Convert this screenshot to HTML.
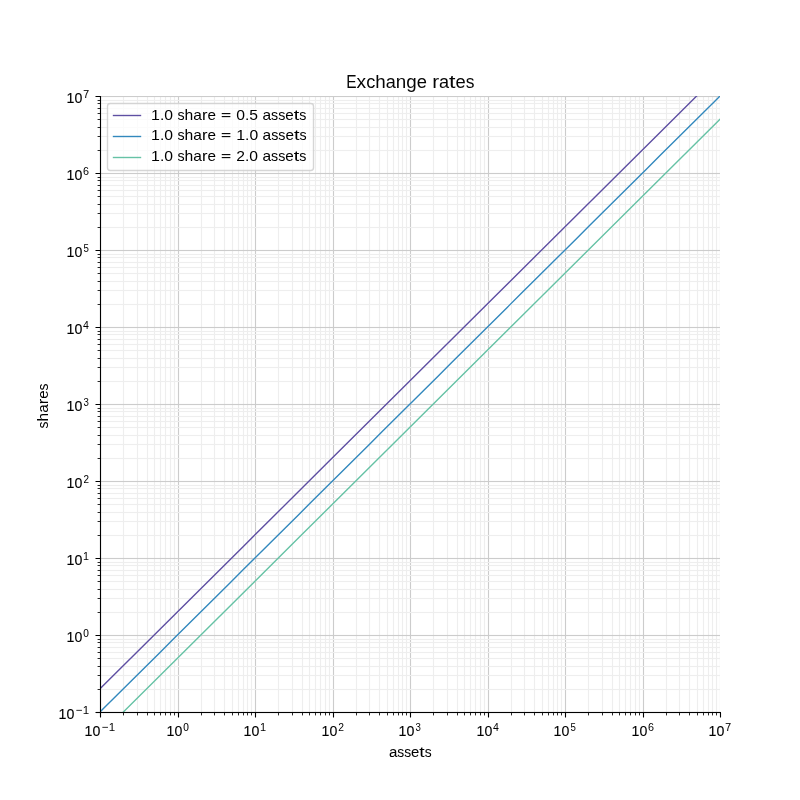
<!DOCTYPE html>
<html><head><meta charset="utf-8"><title>Exchange rates</title>
<style>html,body{margin:0;padding:0;background:#fff}body{width:800px;height:800px;overflow:hidden;position:relative}svg{display:block;position:absolute;left:0;top:0}svg.t{filter:grayscale(1)}</style>
</head><body>
<svg width="800" height="800" viewBox="0 0 800 800">
<rect width="800" height="800" fill="#fff"/>
<clipPath id="c"><rect x="100.0" y="96.0" width="620.0" height="616.0"/></clipPath>
<g clip-path="url(#c)" fill="none" stroke-width="1.111">
<path d="M100.5 96.0V712.0M178.5 96.0V712.0M255.5 96.0V712.0M333.5 96.0V712.0M410.5 96.0V712.0M488.5 96.0V712.0M565.5 96.0V712.0M643.5 96.0V712.0M720.5 96.0V712.0" stroke="#cccccc"/>
<path d="M123.5 96.0V712.0M137.5 96.0V712.0M147.5 96.0V712.0M154.5 96.0V712.0M160.5 96.0V712.0M165.5 96.0V712.0M170.5 96.0V712.0M174.5 96.0V712.0M201.5 96.0V712.0M214.5 96.0V712.0M224.5 96.0V712.0M232.5 96.0V712.0M238.5 96.0V712.0M243.5 96.0V712.0M247.5 96.0V712.0M251.5 96.0V712.0M278.5 96.0V712.0M292.5 96.0V712.0M302.5 96.0V712.0M309.5 96.0V712.0M315.5 96.0V712.0M320.5 96.0V712.0M325.5 96.0V712.0M329.5 96.0V712.0M356.5 96.0V712.0M369.5 96.0V712.0M379.5 96.0V712.0M387.5 96.0V712.0M393.5 96.0V712.0M398.5 96.0V712.0M402.5 96.0V712.0M406.5 96.0V712.0M433.5 96.0V712.0M447.5 96.0V712.0M457.5 96.0V712.0M464.5 96.0V712.0M470.5 96.0V712.0M475.5 96.0V712.0M480.5 96.0V712.0M484.5 96.0V712.0M511.5 96.0V712.0M524.5 96.0V712.0M534.5 96.0V712.0M542.5 96.0V712.0M548.5 96.0V712.0M553.5 96.0V712.0M557.5 96.0V712.0M561.5 96.0V712.0M588.5 96.0V712.0M602.5 96.0V712.0M612.5 96.0V712.0M619.5 96.0V712.0M625.5 96.0V712.0M630.5 96.0V712.0M635.5 96.0V712.0M639.5 96.0V712.0M666.5 96.0V712.0M679.5 96.0V712.0M689.5 96.0V712.0M697.5 96.0V712.0M703.5 96.0V712.0M708.5 96.0V712.0M712.5 96.0V712.0M716.5 96.0V712.0" stroke="#eeeeee"/>
<path d="M100.0 712.5H720.0M100.0 635.5H720.0M100.0 558.5H720.0M100.0 481.5H720.0M100.0 404.5H720.0M100.0 327.5H720.0M100.0 250.5H720.0M100.0 173.5H720.0M100.0 96.5H720.0" stroke="#cccccc"/>
<path d="M100.0 689.5H720.0M100.0 675.5H720.0M100.0 666.5H720.0M100.0 658.5H720.0M100.0 652.5H720.0M100.0 647.5H720.0M100.0 642.5H720.0M100.0 639.5H720.0M100.0 612.5H720.0M100.0 598.5H720.0M100.0 589.5H720.0M100.0 581.5H720.0M100.0 575.5H720.0M100.0 570.5H720.0M100.0 565.5H720.0M100.0 562.5H720.0M100.0 535.5H720.0M100.0 521.5H720.0M100.0 512.5H720.0M100.0 504.5H720.0M100.0 498.5H720.0M100.0 493.5H720.0M100.0 488.5H720.0M100.0 485.5H720.0M100.0 458.5H720.0M100.0 444.5H720.0M100.0 435.5H720.0M100.0 427.5H720.0M100.0 421.5H720.0M100.0 416.5H720.0M100.0 411.5H720.0M100.0 408.5H720.0M100.0 381.5H720.0M100.0 367.5H720.0M100.0 358.5H720.0M100.0 350.5H720.0M100.0 344.5H720.0M100.0 339.5H720.0M100.0 334.5H720.0M100.0 331.5H720.0M100.0 304.5H720.0M100.0 290.5H720.0M100.0 281.5H720.0M100.0 273.5H720.0M100.0 267.5H720.0M100.0 262.5H720.0M100.0 257.5H720.0M100.0 254.5H720.0M100.0 227.5H720.0M100.0 213.5H720.0M100.0 204.5H720.0M100.0 196.5H720.0M100.0 190.5H720.0M100.0 185.5H720.0M100.0 180.5H720.0M100.0 177.5H720.0M100.0 150.5H720.0M100.0 136.5H720.0M100.0 127.5H720.0M100.0 119.5H720.0M100.0 113.5H720.0M100.0 108.5H720.0M100.0 103.5H720.0M100.0 100.5H720.0" stroke="#eeeeee"/>
</g>
<g clip-path="url(#c)" fill="none" stroke-width="1" stroke-opacity="0.0555">
<path d="M100.0 711.5H720.0M100.0 713.5H720.0M100.0 634.5H720.0M100.0 636.5H720.0M100.0 557.5H720.0M100.0 559.5H720.0M100.0 480.5H720.0M100.0 482.5H720.0M100.0 403.5H720.0M100.0 405.5H720.0M100.0 326.5H720.0M100.0 328.5H720.0M100.0 249.5H720.0M100.0 251.5H720.0M100.0 172.5H720.0M100.0 174.5H720.0M100.0 95.5H720.0M100.0 97.5H720.0" stroke="#cccccc"/>
<path d="M100.0 688.5H720.0M100.0 690.5H720.0M100.0 674.5H720.0M100.0 676.5H720.0M100.0 665.5H720.0M100.0 667.5H720.0M100.0 657.5H720.0M100.0 659.5H720.0M100.0 651.5H720.0M100.0 653.5H720.0M100.0 646.5H720.0M100.0 648.5H720.0M100.0 641.5H720.0M100.0 643.5H720.0M100.0 638.5H720.0M100.0 640.5H720.0M100.0 611.5H720.0M100.0 613.5H720.0M100.0 597.5H720.0M100.0 599.5H720.0M100.0 588.5H720.0M100.0 590.5H720.0M100.0 580.5H720.0M100.0 582.5H720.0M100.0 574.5H720.0M100.0 576.5H720.0M100.0 569.5H720.0M100.0 571.5H720.0M100.0 564.5H720.0M100.0 566.5H720.0M100.0 561.5H720.0M100.0 563.5H720.0M100.0 534.5H720.0M100.0 536.5H720.0M100.0 520.5H720.0M100.0 522.5H720.0M100.0 511.5H720.0M100.0 513.5H720.0M100.0 503.5H720.0M100.0 505.5H720.0M100.0 497.5H720.0M100.0 499.5H720.0M100.0 492.5H720.0M100.0 494.5H720.0M100.0 487.5H720.0M100.0 489.5H720.0M100.0 484.5H720.0M100.0 486.5H720.0M100.0 457.5H720.0M100.0 459.5H720.0M100.0 443.5H720.0M100.0 445.5H720.0M100.0 434.5H720.0M100.0 436.5H720.0M100.0 426.5H720.0M100.0 428.5H720.0M100.0 420.5H720.0M100.0 422.5H720.0M100.0 415.5H720.0M100.0 417.5H720.0M100.0 410.5H720.0M100.0 412.5H720.0M100.0 407.5H720.0M100.0 409.5H720.0M100.0 380.5H720.0M100.0 382.5H720.0M100.0 366.5H720.0M100.0 368.5H720.0M100.0 357.5H720.0M100.0 359.5H720.0M100.0 349.5H720.0M100.0 351.5H720.0M100.0 343.5H720.0M100.0 345.5H720.0M100.0 338.5H720.0M100.0 340.5H720.0M100.0 333.5H720.0M100.0 335.5H720.0M100.0 330.5H720.0M100.0 332.5H720.0M100.0 303.5H720.0M100.0 305.5H720.0M100.0 289.5H720.0M100.0 291.5H720.0M100.0 280.5H720.0M100.0 282.5H720.0M100.0 272.5H720.0M100.0 274.5H720.0M100.0 266.5H720.0M100.0 268.5H720.0M100.0 261.5H720.0M100.0 263.5H720.0M100.0 256.5H720.0M100.0 258.5H720.0M100.0 253.5H720.0M100.0 255.5H720.0M100.0 226.5H720.0M100.0 228.5H720.0M100.0 212.5H720.0M100.0 214.5H720.0M100.0 203.5H720.0M100.0 205.5H720.0M100.0 195.5H720.0M100.0 197.5H720.0M100.0 189.5H720.0M100.0 191.5H720.0M100.0 184.5H720.0M100.0 186.5H720.0M100.0 179.5H720.0M100.0 181.5H720.0M100.0 176.5H720.0M100.0 178.5H720.0M100.0 149.5H720.0M100.0 151.5H720.0M100.0 135.5H720.0M100.0 137.5H720.0M100.0 126.5H720.0M100.0 128.5H720.0M100.0 118.5H720.0M100.0 120.5H720.0M100.0 112.5H720.0M100.0 114.5H720.0M100.0 107.5H720.0M100.0 109.5H720.0M100.0 102.5H720.0M100.0 104.5H720.0M100.0 99.5H720.0M100.0 101.5H720.0" stroke="#eeeeee"/>
</g>
<g clip-path="url(#c)" fill="none" stroke-width="1.389">
<path d="M76.670 712.000L160.003 629.205L243.335 546.410L326.668 463.616L410.000 380.821L493.332 298.026L576.665 215.231L659.997 132.436L743.330 49.641" stroke="#5e4fa2"/>
<path d="M76.670 735.179L90.559 721.380L104.448 707.581L118.336 693.782L132.225 679.983L146.114 666.184L160.003 652.384L173.891 638.585L187.780 624.786L201.669 610.987L215.558 597.188L229.446 583.389L243.335 569.590L257.224 555.791L271.113 541.991L285.001 528.192L298.890 514.393L312.779 500.594L326.668 486.795L340.556 472.996L354.445 459.197L368.334 445.397L382.223 431.598L396.111 417.799L410.000 404.000L423.889 390.201L437.777 376.402L451.666 362.603L465.555 348.803L479.444 335.004L493.332 321.205L507.221 307.406L521.110 293.607L534.999 279.808L548.887 266.009L562.776 252.209L576.665 238.410L590.554 224.611L604.442 210.812L618.331 197.013L632.220 183.214L646.109 169.415L659.997 155.616L673.886 141.816L687.775 128.017L701.664 114.218L715.552 100.419L729.441 86.620L743.330 72.821" stroke="#3288bd"/>
<path d="M76.670 758.359L298.890 537.572L521.110 316.786L743.330 96.000" stroke="#66c2a5"/>
</g>
<path d="M100.5 712.5V717.5M100.5 712.5H95.5M178.5 712.5V717.5M100.5 635.5H95.5M255.5 712.5V717.5M100.5 558.5H95.5M333.5 712.5V717.5M100.5 481.5H95.5M410.5 712.5V717.5M100.5 404.5H95.5M488.5 712.5V717.5M100.5 327.5H95.5M565.5 712.5V717.5M100.5 250.5H95.5M643.5 712.5V717.5M100.5 173.5H95.5M720.5 712.5V717.5M100.5 96.5H95.5" stroke="#000" stroke-width="1.111" fill="none"/>
<path d="M123.5 712.5V715.42M100.5 689.5H97.58M137.5 712.5V715.42M100.5 675.5H97.58M147.5 712.5V715.42M100.5 666.5H97.58M154.5 712.5V715.42M100.5 658.5H97.58M160.5 712.5V715.42M100.5 652.5H97.58M165.5 712.5V715.42M100.5 647.5H97.58M170.5 712.5V715.42M100.5 642.5H97.58M174.5 712.5V715.42M100.5 639.5H97.58M201.5 712.5V715.42M100.5 612.5H97.58M214.5 712.5V715.42M100.5 598.5H97.58M224.5 712.5V715.42M100.5 589.5H97.58M232.5 712.5V715.42M100.5 581.5H97.58M238.5 712.5V715.42M100.5 575.5H97.58M243.5 712.5V715.42M100.5 570.5H97.58M247.5 712.5V715.42M100.5 565.5H97.58M251.5 712.5V715.42M100.5 562.5H97.58M278.5 712.5V715.42M100.5 535.5H97.58M292.5 712.5V715.42M100.5 521.5H97.58M302.5 712.5V715.42M100.5 512.5H97.58M309.5 712.5V715.42M100.5 504.5H97.58M315.5 712.5V715.42M100.5 498.5H97.58M320.5 712.5V715.42M100.5 493.5H97.58M325.5 712.5V715.42M100.5 488.5H97.58M329.5 712.5V715.42M100.5 485.5H97.58M356.5 712.5V715.42M100.5 458.5H97.58M369.5 712.5V715.42M100.5 444.5H97.58M379.5 712.5V715.42M100.5 435.5H97.58M387.5 712.5V715.42M100.5 427.5H97.58M393.5 712.5V715.42M100.5 421.5H97.58M398.5 712.5V715.42M100.5 416.5H97.58M402.5 712.5V715.42M100.5 411.5H97.58M406.5 712.5V715.42M100.5 408.5H97.58M433.5 712.5V715.42M100.5 381.5H97.58M447.5 712.5V715.42M100.5 367.5H97.58M457.5 712.5V715.42M100.5 358.5H97.58M464.5 712.5V715.42M100.5 350.5H97.58M470.5 712.5V715.42M100.5 344.5H97.58M475.5 712.5V715.42M100.5 339.5H97.58M480.5 712.5V715.42M100.5 334.5H97.58M484.5 712.5V715.42M100.5 331.5H97.58M511.5 712.5V715.42M100.5 304.5H97.58M524.5 712.5V715.42M100.5 290.5H97.58M534.5 712.5V715.42M100.5 281.5H97.58M542.5 712.5V715.42M100.5 273.5H97.58M548.5 712.5V715.42M100.5 267.5H97.58M553.5 712.5V715.42M100.5 262.5H97.58M557.5 712.5V715.42M100.5 257.5H97.58M561.5 712.5V715.42M100.5 254.5H97.58M588.5 712.5V715.42M100.5 227.5H97.58M602.5 712.5V715.42M100.5 213.5H97.58M612.5 712.5V715.42M100.5 204.5H97.58M619.5 712.5V715.42M100.5 196.5H97.58M625.5 712.5V715.42M100.5 190.5H97.58M630.5 712.5V715.42M100.5 185.5H97.58M635.5 712.5V715.42M100.5 180.5H97.58M639.5 712.5V715.42M100.5 177.5H97.58M666.5 712.5V715.42M100.5 150.5H97.58M679.5 712.5V715.42M100.5 136.5H97.58M689.5 712.5V715.42M100.5 127.5H97.58M697.5 712.5V715.42M100.5 119.5H97.58M703.5 712.5V715.42M100.5 113.5H97.58M708.5 712.5V715.42M100.5 108.5H97.58M712.5 712.5V715.42M100.5 103.5H97.58M716.5 712.5V715.42M100.5 100.5H97.58" stroke="#000" stroke-width="0.833" fill="none"/>
<path d="M100.5 96V712.5H721" stroke="#000" stroke-width="1.111" fill="none"/>
<path d="M96 711.5H720.6M96 713.5H720.6" stroke="#000" stroke-opacity="0.055" stroke-width="1" fill="none"/>
<rect x="107.5" y="103.5" width="206" height="67" rx="2.8" ry="2.8" fill="#fff" fill-opacity="0.78" stroke="#cccccc" stroke-opacity="0.8" stroke-width="1.389"/>
<path d="M112.8 115.5H141.2" stroke="#5e4fa2" stroke-width="1.389" fill="none"/>
<path d="M112.8 136.5H141.2" stroke="#3288bd" stroke-width="1.389" fill="none"/>
<path d="M112.8 157.5H141.2" stroke="#66c2a5" stroke-width="1.389" fill="none"/>
</svg>
<svg class="t" width="800" height="800" viewBox="0 0 800 800">
<g font-family="'Liberation Sans', sans-serif" fill="#000">
<g opacity="0.979">
<text x="346.25" y="88.00" font-size="18.67" textLength="10.33" lengthAdjust="spacingAndGlyphs">E</text>
<text x="356.58" y="88.00" font-size="19.10" textLength="9.59" lengthAdjust="spacingAndGlyphs">x</text>
<text x="366.17" y="88.00" font-size="19.10" textLength="9.09" lengthAdjust="spacingAndGlyphs">c</text>
<text x="375.26" y="88.00" font-size="19.10" textLength="10.46" lengthAdjust="spacingAndGlyphs">h</text>
<text x="385.71" y="88.00" font-size="19.10" textLength="10.08" lengthAdjust="spacingAndGlyphs">a</text>
<text x="395.80" y="88.00" font-size="19.10" textLength="10.46" lengthAdjust="spacingAndGlyphs">n</text>
<text x="406.25" y="88.00" font-size="19.10" textLength="10.46" lengthAdjust="spacingAndGlyphs">g</text>
<text x="416.71" y="88.00" font-size="19.10" textLength="10.21" lengthAdjust="spacingAndGlyphs">e</text>
<text x="432.15" y="88.00" font-size="19.10" textLength="6.85" lengthAdjust="spacingAndGlyphs">r</text>
<text x="438.99" y="88.00" font-size="19.10" textLength="10.08" lengthAdjust="spacingAndGlyphs">a</text>
<text x="449.08" y="88.00" font-size="19.10" textLength="6.47" lengthAdjust="spacingAndGlyphs">t</text>
<text x="455.55" y="88.00" font-size="19.10" textLength="10.21" lengthAdjust="spacingAndGlyphs">e</text>
<text x="465.76" y="88.00" font-size="19.10" textLength="8.71" lengthAdjust="spacingAndGlyphs">s</text>
</g>
<g stroke="#000" stroke-width="0.03">
<text x="388.88" y="757.00" font-size="15.09" textLength="8.38" lengthAdjust="spacingAndGlyphs">a</text>
<text x="397.26" y="757.00" font-size="15.09" textLength="6.93" lengthAdjust="spacingAndGlyphs">s</text>
<text x="404.19" y="757.00" font-size="15.09" textLength="6.93" lengthAdjust="spacingAndGlyphs">s</text>
<text x="411.11" y="757.00" font-size="15.09" textLength="8.26" lengthAdjust="spacingAndGlyphs">e</text>
<text x="419.37" y="757.00" font-size="15.09" textLength="5.35" lengthAdjust="spacingAndGlyphs">t</text>
<text x="424.72" y="757.00" font-size="15.09" textLength="6.93" lengthAdjust="spacingAndGlyphs">s</text>
</g>
<g transform="rotate(-90 48.00 428.38)">
<text x="48.00" y="428.38" font-size="14.78" textLength="7.01" lengthAdjust="spacingAndGlyphs">s</text>
<text x="55.01" y="428.38" font-size="14.78" textLength="8.61" lengthAdjust="spacingAndGlyphs">h</text>
<text x="63.63" y="428.38" font-size="14.78" textLength="8.49" lengthAdjust="spacingAndGlyphs">a</text>
<text x="72.12" y="428.38" font-size="14.78" textLength="5.41" lengthAdjust="spacingAndGlyphs">r</text>
<text x="77.53" y="428.38" font-size="14.78" textLength="8.37" lengthAdjust="spacingAndGlyphs">e</text>
<text x="85.90" y="428.38" font-size="14.78" textLength="7.01" lengthAdjust="spacingAndGlyphs">s</text>
</g>
<g opacity="0.995">
<text x="151.07" y="120.00" font-size="14.64" textLength="8.87" lengthAdjust="spacingAndGlyphs">1</text>
<text x="159.94" y="120.00" font-size="14.64" textLength="4.37" lengthAdjust="spacingAndGlyphs">.</text>
<text x="164.31" y="120.00" font-size="14.64" textLength="8.74" lengthAdjust="spacingAndGlyphs">0</text>
<text x="177.43" y="120.00" font-size="14.78" textLength="7.12" lengthAdjust="spacingAndGlyphs">s</text>
<text x="184.55" y="120.00" font-size="14.78" textLength="8.74" lengthAdjust="spacingAndGlyphs">h</text>
<text x="193.29" y="120.00" font-size="14.78" textLength="8.62" lengthAdjust="spacingAndGlyphs">a</text>
<text x="201.91" y="120.00" font-size="14.78" textLength="5.50" lengthAdjust="spacingAndGlyphs">r</text>
<text x="207.40" y="120.00" font-size="14.78" textLength="8.49" lengthAdjust="spacingAndGlyphs">e</text>
<text x="236.26" y="120.00" font-size="14.64" textLength="8.74" lengthAdjust="spacingAndGlyphs">0</text>
<text x="245.00" y="120.00" font-size="14.64" textLength="4.37" lengthAdjust="spacingAndGlyphs">.</text>
<text x="249.37" y="120.00" font-size="14.64" textLength="8.74" lengthAdjust="spacingAndGlyphs">5</text>
<text x="262.49" y="120.00" font-size="14.78" textLength="8.62" lengthAdjust="spacingAndGlyphs">a</text>
<text x="271.10" y="120.00" font-size="14.78" textLength="7.12" lengthAdjust="spacingAndGlyphs">s</text>
<text x="278.22" y="120.00" font-size="14.78" textLength="7.12" lengthAdjust="spacingAndGlyphs">s</text>
<text x="285.34" y="120.00" font-size="14.78" textLength="8.49" lengthAdjust="spacingAndGlyphs">e</text>
<text x="293.84" y="120.00" font-size="14.78" textLength="5.50" lengthAdjust="spacingAndGlyphs">t</text>
<text x="299.33" y="120.00" font-size="14.78" textLength="7.12" lengthAdjust="spacingAndGlyphs">s</text>
</g>
<g>
<text x="151.07" y="140.00" font-size="14.64" textLength="8.87" lengthAdjust="spacingAndGlyphs">1</text>
<text x="159.94" y="140.00" font-size="14.64" textLength="4.37" lengthAdjust="spacingAndGlyphs">.</text>
<text x="164.31" y="140.00" font-size="14.64" textLength="8.74" lengthAdjust="spacingAndGlyphs">0</text>
<text x="177.43" y="140.00" font-size="14.78" textLength="7.12" lengthAdjust="spacingAndGlyphs">s</text>
<text x="184.55" y="140.00" font-size="14.78" textLength="8.74" lengthAdjust="spacingAndGlyphs">h</text>
<text x="193.29" y="140.00" font-size="14.78" textLength="8.62" lengthAdjust="spacingAndGlyphs">a</text>
<text x="201.91" y="140.00" font-size="14.78" textLength="5.50" lengthAdjust="spacingAndGlyphs">r</text>
<text x="207.40" y="140.00" font-size="14.78" textLength="8.49" lengthAdjust="spacingAndGlyphs">e</text>
<text x="236.26" y="140.00" font-size="14.64" textLength="8.87" lengthAdjust="spacingAndGlyphs">1</text>
<text x="245.12" y="140.00" font-size="14.64" textLength="4.37" lengthAdjust="spacingAndGlyphs">.</text>
<text x="249.50" y="140.00" font-size="14.64" textLength="8.74" lengthAdjust="spacingAndGlyphs">0</text>
<text x="262.61" y="140.00" font-size="14.78" textLength="8.62" lengthAdjust="spacingAndGlyphs">a</text>
<text x="271.23" y="140.00" font-size="14.78" textLength="7.12" lengthAdjust="spacingAndGlyphs">s</text>
<text x="278.35" y="140.00" font-size="14.78" textLength="7.12" lengthAdjust="spacingAndGlyphs">s</text>
<text x="285.47" y="140.00" font-size="14.78" textLength="8.49" lengthAdjust="spacingAndGlyphs">e</text>
<text x="293.96" y="140.00" font-size="14.78" textLength="5.50" lengthAdjust="spacingAndGlyphs">t</text>
<text x="299.46" y="140.00" font-size="14.78" textLength="7.12" lengthAdjust="spacingAndGlyphs">s</text>
</g>
<g>
<text x="151.07" y="161.00" font-size="14.64" textLength="8.87" lengthAdjust="spacingAndGlyphs">1</text>
<text x="159.94" y="161.00" font-size="14.64" textLength="4.37" lengthAdjust="spacingAndGlyphs">.</text>
<text x="164.31" y="161.00" font-size="14.64" textLength="8.74" lengthAdjust="spacingAndGlyphs">0</text>
<text x="177.43" y="161.00" font-size="14.78" textLength="7.12" lengthAdjust="spacingAndGlyphs">s</text>
<text x="184.55" y="161.00" font-size="14.78" textLength="8.74" lengthAdjust="spacingAndGlyphs">h</text>
<text x="193.29" y="161.00" font-size="14.78" textLength="8.62" lengthAdjust="spacingAndGlyphs">a</text>
<text x="201.91" y="161.00" font-size="14.78" textLength="5.50" lengthAdjust="spacingAndGlyphs">r</text>
<text x="207.40" y="161.00" font-size="14.78" textLength="8.49" lengthAdjust="spacingAndGlyphs">e</text>
<text x="236.26" y="161.00" font-size="14.64" textLength="8.74" lengthAdjust="spacingAndGlyphs">2</text>
<text x="245.00" y="161.00" font-size="14.64" textLength="4.37" lengthAdjust="spacingAndGlyphs">.</text>
<text x="249.37" y="161.00" font-size="14.64" textLength="8.74" lengthAdjust="spacingAndGlyphs">0</text>
<text x="262.49" y="161.00" font-size="14.78" textLength="8.62" lengthAdjust="spacingAndGlyphs">a</text>
<text x="271.10" y="161.00" font-size="14.78" textLength="7.12" lengthAdjust="spacingAndGlyphs">s</text>
<text x="278.22" y="161.00" font-size="14.78" textLength="7.12" lengthAdjust="spacingAndGlyphs">s</text>
<text x="285.34" y="161.00" font-size="14.78" textLength="8.49" lengthAdjust="spacingAndGlyphs">e</text>
<text x="293.84" y="161.00" font-size="14.78" textLength="5.50" lengthAdjust="spacingAndGlyphs">t</text>
<text x="299.33" y="161.00" font-size="14.78" textLength="7.12" lengthAdjust="spacingAndGlyphs">s</text>
</g>
<text stroke="#000" stroke-width="0.16" x="84.62" y="736.00" font-size="15.15" textLength="15.75" lengthAdjust="spacingAndGlyphs">10</text>
<text x="102.12" y="731.00" font-size="11.79" textLength="13.12" lengthAdjust="spacingAndGlyphs">−1</text>
<text stroke="#000" stroke-width="0.16" x="58.62" y="719.00" font-size="15.15" textLength="15.75" lengthAdjust="spacingAndGlyphs">10</text>
<text x="76.12" y="714.00" font-size="11.79" textLength="13.12" lengthAdjust="spacingAndGlyphs">−1</text>
<text stroke="#000" stroke-width="0.12" x="166.62" y="736.00" font-size="15.37" textLength="15.75" lengthAdjust="spacingAndGlyphs">10</text>
<text stroke="#000" stroke-width="0.10" x="183.25" y="731.00" font-size="11.52" textLength="5.62" lengthAdjust="spacingAndGlyphs">0</text>
<text stroke="#000" stroke-width="0.12" x="66.62" y="642.00" font-size="14.93" textLength="15.75" lengthAdjust="spacingAndGlyphs">10</text>
<text stroke="#000" stroke-width="0.09" x="83.25" y="637.00" font-size="11.16" textLength="5.62" lengthAdjust="spacingAndGlyphs">0</text>
<text stroke="#000" stroke-width="0.16" x="243.62" y="736.00" font-size="15.34" textLength="15.75" lengthAdjust="spacingAndGlyphs">10</text>
<text opacity="0.999" x="259.88" y="731.00" font-size="11.54" textLength="6.12" lengthAdjust="spacingAndGlyphs">1</text>
<text stroke="#000" stroke-width="0.16" x="66.62" y="565.00" font-size="15.15" textLength="15.75" lengthAdjust="spacingAndGlyphs">10</text>
<text x="82.88" y="560.00" font-size="11.82" textLength="6.00" lengthAdjust="spacingAndGlyphs">1</text>
<text stroke="#000" stroke-width="0.12" x="321.62" y="736.00" font-size="14.51" textLength="15.75" lengthAdjust="spacingAndGlyphs">10</text>
<text opacity="0.996" x="338.25" y="731.00" font-size="11.22" textLength="5.75" lengthAdjust="spacingAndGlyphs">2</text>
<text stroke="#000" stroke-width="0.14" x="66.62" y="488.00" font-size="15.46" textLength="15.75" lengthAdjust="spacingAndGlyphs">10</text>
<text stroke="#000" stroke-width="0.06" x="83.62" y="483.00" font-size="11.22" textLength="5.50" lengthAdjust="spacingAndGlyphs">2</text>
<text stroke="#000" stroke-width="0.16" x="398.62" y="736.00" font-size="15.15" textLength="15.75" lengthAdjust="spacingAndGlyphs">10</text>
<text opacity="0.988" x="415.38" y="731.00" font-size="11.84" textLength="5.38" lengthAdjust="spacingAndGlyphs">3</text>
<text stroke="#000" stroke-width="0.16" x="66.62" y="411.00" font-size="15.15" textLength="15.75" lengthAdjust="spacingAndGlyphs">10</text>
<text opacity="0.988" x="83.38" y="406.00" font-size="11.84" textLength="5.38" lengthAdjust="spacingAndGlyphs">3</text>
<text stroke="#000" stroke-width="0.12" x="476.62" y="736.00" font-size="14.96" textLength="15.75" lengthAdjust="spacingAndGlyphs">10</text>
<text x="492.88" y="731.00" font-size="11.62" textLength="5.88" lengthAdjust="spacingAndGlyphs">4</text>
<text stroke="#000" stroke-width="0.16" x="66.62" y="334.00" font-size="15.15" textLength="15.75" lengthAdjust="spacingAndGlyphs">10</text>
<text x="82.88" y="329.00" font-size="11.29" textLength="5.88" lengthAdjust="spacingAndGlyphs">4</text>
<text stroke="#000" stroke-width="0.12" x="553.62" y="736.00" font-size="14.51" textLength="15.75" lengthAdjust="spacingAndGlyphs">10</text>
<text x="570.38" y="731.00" font-size="10.71" textLength="5.38" lengthAdjust="spacingAndGlyphs">5</text>
<text stroke="#000" stroke-width="0.12" x="66.62" y="257.00" font-size="14.51" textLength="15.75" lengthAdjust="spacingAndGlyphs">10</text>
<text x="83.38" y="252.00" font-size="10.71" textLength="5.38" lengthAdjust="spacingAndGlyphs">5</text>
<text stroke="#000" stroke-width="0.12" x="631.62" y="736.00" font-size="14.51" textLength="15.75" lengthAdjust="spacingAndGlyphs">10</text>
<text x="648.00" y="731.00" font-size="11.66" textLength="6.00" lengthAdjust="spacingAndGlyphs">6</text>
<text stroke="#000" stroke-width="0.16" x="66.62" y="180.00" font-size="15.34" textLength="15.75" lengthAdjust="spacingAndGlyphs">10</text>
<text x="83.00" y="175.00" font-size="11.62" textLength="6.00" lengthAdjust="spacingAndGlyphs">6</text>
<text stroke="#000" stroke-width="0.16" x="708.62" y="736.00" font-size="15.50" textLength="15.75" lengthAdjust="spacingAndGlyphs">10</text>
<text stroke="#000" stroke-width="0.09" x="725.25" y="731.00" font-size="11.29" textLength="5.88" lengthAdjust="spacingAndGlyphs">7</text>
<text stroke="#000" stroke-width="0.16" x="66.62" y="103.00" font-size="15.50" textLength="15.75" lengthAdjust="spacingAndGlyphs">10</text>
<text stroke="#000" stroke-width="0.09" x="83.25" y="98.00" font-size="11.29" textLength="5.88" lengthAdjust="spacingAndGlyphs">7</text>
</g>
<rect x="221.75" y="113" width="8.62" height="1" fill="#000" fill-opacity="0.957"/>
<rect x="221.75" y="114" width="8.62" height="1" fill="#000" fill-opacity="0.145"/>
<rect x="221.75" y="116" width="8.62" height="1" fill="#000" fill-opacity="0.957"/>
<rect x="221.75" y="117" width="8.62" height="1" fill="#000" fill-opacity="0.145"/>
<rect x="221.75" y="133" width="8.62" height="1" fill="#000" fill-opacity="0.957"/>
<rect x="221.75" y="134" width="8.62" height="1" fill="#000" fill-opacity="0.145"/>
<rect x="221.75" y="136" width="8.62" height="1" fill="#000" fill-opacity="0.957"/>
<rect x="221.75" y="137" width="8.62" height="1" fill="#000" fill-opacity="0.145"/>
<rect x="221.75" y="154" width="8.62" height="1" fill="#000" fill-opacity="0.957"/>
<rect x="221.75" y="155" width="8.62" height="1" fill="#000" fill-opacity="0.145"/>
<rect x="221.75" y="157" width="8.62" height="1" fill="#000" fill-opacity="0.957"/>
<rect x="221.75" y="158" width="8.62" height="1" fill="#000" fill-opacity="0.145"/>
</svg>
</body></html>
